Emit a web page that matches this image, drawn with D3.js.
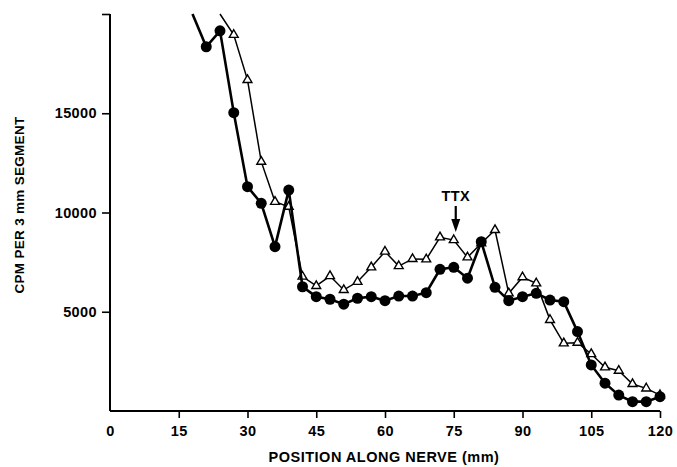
<!DOCTYPE html>
<html>
<head>
<meta charset="utf-8">
<script src="https://cdn.jsdelivr.net/npm/d3@7"></script>
<style>
  html, body { margin: 0; padding: 0; background: #fff; }
  svg { display: block; }
  text { font-family: "Liberation Sans", Arial, sans-serif; font-weight: bold; fill: #000; }
</style>
</head>
<body>
<svg id="chart" width="677" height="467"></svg>
<script>
// Position along nerve (mm), 3 mm segments
const positionsA = [18, 21, 24, 27, 30, 33, 36, 39, 42, 45, 48, 51, 54, 57, 60, 63, 66, 69, 72, 75, 78, 81, 84, 87, 90, 93, 96, 99, 102, 105, 108, 111, 114, 117, 120];
// Filled circles (thick line)
const cpmA = [20000, 18350, 19150, 15030, 11300, 10460, 8280, 11130, 6260, 5760, 5630, 5380, 5680, 5760, 5560, 5790, 5790, 5960, 7140, 7240, 6690, 8530, 6230, 5560, 5760, 5930, 5590, 5510, 4000, 2320, 1400, 800, 470, 470, 720];

const positionsB = [24, 27, 30, 33, 36, 39, 42, 45, 48, 51, 54, 57, 60, 63, 66, 69, 72, 75, 78, 81, 84, 87, 90, 93, 96, 99, 102, 105, 108, 111, 114, 117, 120];
// Open triangles (thin line)
const cpmB = [20000, 18950, 16680, 12560, 10540, 10290, 6770, 6300, 6800, 6100, 6510, 7240, 8030, 7300, 7660, 7640, 8750, 8610, 7740, 8450, 9120, 5930, 6740, 6430, 4590, 3410, 3440, 2870, 2200, 2030, 1360, 1140, 800];

const xTicks = [0, 15, 30, 45, 60, 75, 90, 105, 120];
const yTicks = [5000, 10000, 15000, 20000];
const yTickLabels = ["5000", "10000", "15000", ""];

const xTitle = "POSITION ALONG NERVE (mm)";
const yTitle = "CPM PER 3 mm SEGMENT";
const annotation = { label: "TTX", position: 75 };

const svg = d3.select("#chart");
const x = d3.scaleLinear().domain([0, 120]).range([110, 660]);
const y = d3.scaleLinear().domain([0, 20000]).range([411, 14]);

const seriesA = positionsA.map((p, i) => ({ p, v: cpmA[i] }));
const seriesB = positionsB.map((p, i) => ({ p, v: cpmB[i] }));

const line = d3.line().x(d => x(d.p)).y(d => y(d.v));

const tickFont = sel => sel.style("font-size", "14.5px")
  .style("font-family", "'Liberation Sans', Arial, sans-serif")
  .style("font-weight", "bold").style("letter-spacing", "0.4px");

// Axes
const xAxis = d3.axisBottom(x).tickValues(xTicks).tickSize(7).tickPadding(8).tickFormat(d3.format("d"));
const gx = svg.append("g").attr("transform", `translate(0,${y(0)})`).call(xAxis);
gx.select(".domain").attr("stroke-width", 2).attr("d", `M${x(0)},0H${x(120)}`);
gx.selectAll(".tick line").attr("stroke-width", 1.6).filter(d => d === 0).remove();
gx.selectAll(".tick text").call(tickFont);

const yAxis = d3.axisLeft(y).tickValues(yTicks).tickSize(8).tickPadding(5).tickFormat((d, i) => yTickLabels[i]);
const gy = svg.append("g").attr("transform", `translate(${x(0)},0)`).call(yAxis);
gy.select(".domain").attr("stroke-width", 2).attr("d", `M0,${y(20000)}V${y(0)}`);
gy.selectAll(".tick line").attr("stroke-width", 1.6);
gy.selectAll(".tick text").call(tickFont);

// Titles
svg.append("text")
  .attr("x", 384).attr("y", 462)
  .attr("text-anchor", "middle")
  .style("font-size", "14.5px")
  .style("letter-spacing", "0.5px")
  .text(xTitle);

svg.append("text")
  .attr("transform", `translate(24,${205}) rotate(-90)`)
  .attr("text-anchor", "middle")
  .style("font-size", "13.5px")
  .style("letter-spacing", "0.3px")
  .text(yTitle);

// Series B (triangles)
svg.append("path").datum(seriesB)
  .attr("fill", "none").attr("stroke", "#000").attr("stroke-width", 1.5)
  .attr("d", line);
svg.append("g").selectAll("path").data(seriesB.filter(d => d.v < 20000)).join("path")
  .attr("d", d3.symbol().type(d3.symbolTriangle).size(34))
  .attr("transform", d => `translate(${x(d.p)},${y(d.v)})`)
  .attr("fill", "#fff").attr("stroke", "#000").attr("stroke-width", 1.4);

// Series A (filled circles)
svg.append("path").datum(seriesA)
  .attr("fill", "none").attr("stroke", "#000").attr("stroke-width", 2.6)
  .attr("d", line);
svg.append("g").selectAll("circle").data(seriesA.filter(d => d.v < 20000)).join("circle")
  .attr("cx", d => x(d.p)).attr("cy", d => y(d.v)).attr("r", 5.5)
  .attr("fill", "#000");

// TTX annotation
const ax = x(annotation.position) + 2;
svg.append("text")
  .attr("x", ax).attr("y", 201)
  .attr("text-anchor", "middle")
  .style("font-size", "14.5px")
  .style("letter-spacing", "0.4px")
  .text(annotation.label);
svg.append("line")
  .attr("x1", ax).attr("x2", ax).attr("y1", 206).attr("y2", 222)
  .attr("stroke", "#000").attr("stroke-width", 2.2);
svg.append("path")
  .attr("d", `M${ax - 4.5},219L${ax + 4.5},219L${ax},232Z`)
  .attr("fill", "#000");
</script>
</body>
</html>
